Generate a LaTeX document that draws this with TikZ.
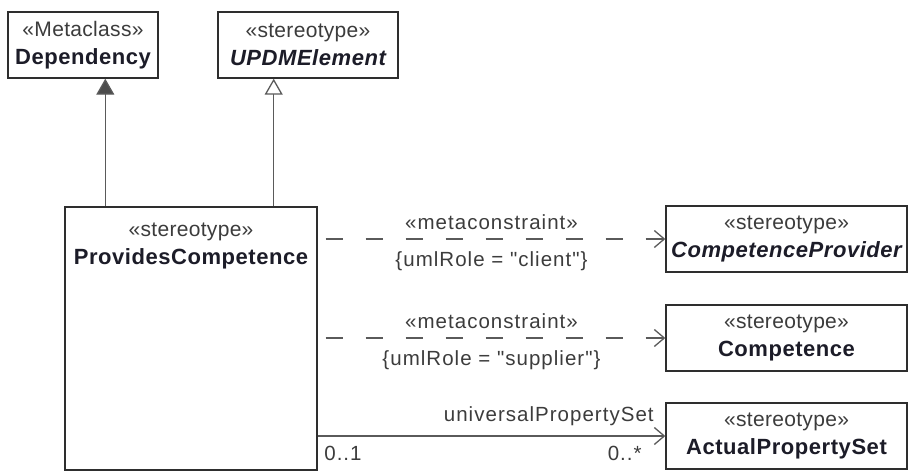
\documentclass[tikz,border=0pt]{standalone}
\usepackage{fontspec}
\setmainfont{Liberation Sans}
\newfontfamily\lblfont{Liberation Sans}[LetterSpace=5]
\newfontfamily\nmfont{Liberation Sans}[LetterSpace=2.5]
\newfontfamily\stfont{Liberation Sans}[LetterSpace=1.5]
\usepackage{xcolor}
\usepackage{tikz}
\usetikzlibrary{arrows.meta,positioning,calc}

\definecolor{boxline}{HTML}{2E2E2E}
\definecolor{edgeline}{HTML}{5A5A5A}
\definecolor{sttext}{HTML}{3C3C3C}
\definecolor{nmtext}{HTML}{1C1C28}

\newcommand{\ster}[1]{{\color{sttext}\stfont\fontsize{21}{28}\selectfont «#1»}}
\newcommand{\clsn}[1]{{\color{nmtext}\nmfont\fontsize{22}{28}\selectfont\bfseries #1}}
\newcommand{\clsni}[1]{{\color{nmtext}\nmfont\fontsize{22}{28}\selectfont\bfseries\itshape #1}}
\newcommand{\dq}{\symbol{34}}

\begin{document}
\begin{tikzpicture}[x=1pt,y=-1pt,
  cls/.style={draw=boxline,line width=1.4pt,fill=white,align=center,inner sep=0pt,font=\fontsize{21}{28}\selectfont},
  lbl/.style={font=\lblfont\fontsize{20.5}{24}\selectfont,text=sttext,inner sep=0pt},
  meta/.style={draw=edgeline,line width=1.3pt,dash pattern=on 17.5pt off 22.5pt,dash phase=32pt,-{Straight Barb[length=10pt,width=17pt]}},
  assoc/.style={draw=edgeline,line width=1.3pt,-{Straight Barb[length=10pt,width=17pt]}},
  gen/.style={draw=edgeline,line width=1.3pt}]
\useasboundingbox (0,0) rectangle (908,472);

\node[cls,minimum width=150pt,minimum height=66pt] (dep) at (83,45) {\ster{Metaclass}\\\clsn{Dependency}};
\node[cls,minimum width=180pt,minimum height=66pt] (upe) at (308,45) {\ster{stereotype}\\\clsni{UPDMElement}};
\node[cls,minimum width=252pt,minimum height=263pt] (pc) at (191,338.5) {};
\node[cls,draw=none,fill=none] (pcname) at (191,246) {\ster{stereotype}\\\clsn{ProvidesCompetence}};
\node[cls,minimum width=241pt,minimum height=66pt] (cp) at (786.5,239) {\ster{stereotype}\\\clsni{CompetenceProvider}};
\node[cls,minimum width=241pt,minimum height=66pt] (comp) at (786.5,338) {\ster{stereotype}\\\clsn{Competence}};
\node[cls,minimum width=241pt,minimum height=66pt] (aps) at (786.5,436) {\ster{stereotype}\\\clsn{ActualPropertySet}};

\coordinate (depfoot) at ([xshift=41pt]pc.north west);
\coordinate (upefoot) at ([xshift=-44pt]pc.north east);
\draw[gen,-{Triangle[width=18pt,length=16pt,fill=black!70]}] (depfoot) -- (depfoot |- dep.south);
\draw[gen,-{Triangle[open,width=18pt,length=16pt,fill=white]}] (upefoot) -- (upefoot |- upe.south);

\draw[meta] (pc.east |- cp.west) -- node[lbl,above=9pt] {«metaconstraint»} node[lbl,below=12pt] {\{umlRole = \dq client\dq\}} (cp.west);
\draw[meta] (pc.east |- comp.west) -- node[lbl,above=9pt] {«metaconstraint»} node[lbl,below=12pt] {\{umlRole = \dq supplier\dq\}} (comp.west);
\draw[assoc] (pc.east |- aps.west) -- node[lbl,pos=1,anchor=south east,xshift=-11pt,yshift=10pt] {universalPropertySet}
  node[lbl,pos=0,anchor=north west,xshift=6pt,yshift=-10pt] {0..1}
  node[lbl,pos=1,anchor=north east,xshift=-23pt,yshift=-10pt] {0..*} (aps.west);
\end{tikzpicture}
\end{document}
